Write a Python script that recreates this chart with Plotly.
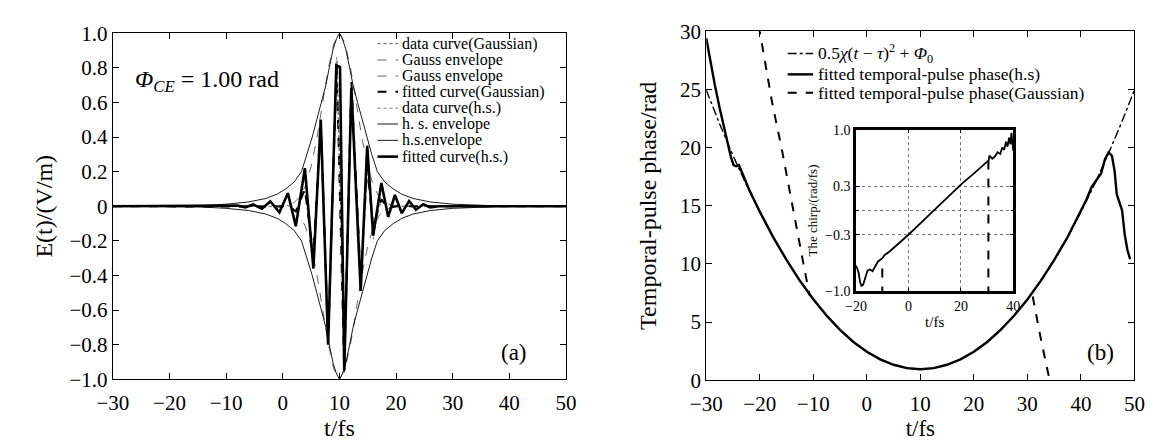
import plotly.graph_objects as go

W, H = 1154, 440
FONT = "Liberation Serif"

# ---------------- panel (a): E(t) ----------------
X_TICKS = [-30, -20, -10, 0, 10, 20, 30, 40, 50]
X_TICKTEXT = ["−30", "−20", "−10", "0", "10", "20", "30", "40", "50"]
EA_TICKS = [-1.0, -0.8, -0.6, -0.4, -0.2, 0.0, 0.2, 0.4, 0.6, 0.8, 1.0]
EA_TICKTEXT = ["−1.0", "−0.8", "−0.6", "−0.4", "−0.2", "0", "0.2", "0.4", "0.6", "0.8", "1.0"]

LEGEND_A = ["data curve(Gaussian)", "Gauss envelope", "Gauss envelope", "fitted curve(Gaussian)",
            "data curve(h.s.)", "h. s. envelope", "h.s.envelope", "fitted curve(h.s.)"]

GAUSS_DATA_T = [-30, -2.0, -0.6, 0.9, 2.3, 3.9, 5.4, 6.7, 8.0, 9.6, 10.9, 12.15, 13.8, 14.95, 16.0, 17.45, 18.7, 20.0, 50]
GAUSS_DATA_E = [0, 0, -0.001, 0.004, -0.025, 0.085, -0.27, 0.49, -0.79, 0.84, -0.96, 0.71, -0.41, 0.22, -0.11, 0.035, -0.01, 0, 0]

GAUSS_ENV_T = [-30, -2, 0, 1, 2, 3, 4, 5, 6, 7, 8, 9, 10, 11, 12, 13, 14, 15, 16, 17, 18, 19, 20, 22, 50]
GAUSS_ENV_UP = [0, 0.0003, 0.0026, 0.008, 0.022, 0.054, 0.118, 0.23, 0.39, 0.59, 0.79, 0.94, 1.0,
                0.94, 0.79, 0.59, 0.39, 0.23, 0.118, 0.054, 0.022, 0.008, 0.0026, 0.0003, 0]
GAUSS_ENV_LO = [0, -0.0003, -0.0026, -0.008, -0.022, -0.054, -0.118, -0.23, -0.39, -0.59, -0.79, -0.94, -1.0,
                -0.94, -0.79, -0.59, -0.39, -0.23, -0.118, -0.054, -0.022, -0.008, -0.0026, -0.0003, 0]

GAUSS_FIT_T = [-30, -2.0, -0.6, 0.9, 2.3, 3.9, 5.4, 6.7, 8.0, 9.5, 10.85, 12.1, 13.75, 14.9, 15.95, 17.4, 18.6, 20.0, 50]
GAUSS_FIT_E = [0, 0, -0.002, 0.006, -0.03, 0.10, -0.29, 0.50, -0.78, 0.83, -0.95, 0.72, -0.42, 0.23, -0.12, 0.04, -0.012, 0, 0]

HS_DATA_T = [-30, -9.5, -8.0, -6.6, -5.2, -3.7, -2.2, -0.6, 0.9, 2.3, 3.9, 5.4, 6.7, 8.0, 9.5, 10.9, 12.2,
             13.8, 15.0, 16.0, 17.4, 18.7, 19.9, 21.1, 22.4, 23.6, 24.9, 26.2, 27.8, 50]
HS_DATA_E = [0, 0, 0.006, -0.008, 0.012, -0.018, 0.032, -0.045, 0.085, -0.12, 0.20, -0.33, 0.47, -0.76, 0.86,
             -0.93, 0.66, -0.45, 0.30, -0.19, 0.12, -0.07, 0.06, -0.045, 0.03, -0.02, 0.012, -0.006, 0, 0]

HS_ENV_T = [-30, -18, -14, -10, -6, -3, -1, 0.5, 2.0, 3.3, 4.3, 5.2, 6.0, 6.8, 7.6, 8.2, 8.9, 9.5, 10,
            10.5, 11.1, 11.8, 12.4, 13.2, 14.0, 14.8, 15.7, 16.7, 18.0, 19.5, 21, 23, 26, 30, 34, 38, 50]
HS_ENV_UP = [0, 0.002, 0.005, 0.012, 0.025, 0.045, 0.07, 0.10, 0.14, 0.20, 0.30, 0.40, 0.50, 0.60, 0.70,
             0.80, 0.91, 0.97, 1.0, 0.97, 0.91, 0.80, 0.70, 0.60, 0.50, 0.40, 0.30, 0.20, 0.14, 0.10,
             0.07, 0.045, 0.025, 0.012, 0.005, 0.002, 0]
HS_ENV_LO = [0, -0.002, -0.005, -0.012, -0.025, -0.045, -0.07, -0.10, -0.14, -0.20, -0.30, -0.40, -0.50,
             -0.60, -0.70, -0.80, -0.91, -0.97, -1.0, -0.97, -0.91, -0.80, -0.70, -0.60, -0.50, -0.40,
             -0.30, -0.20, -0.14, -0.10, -0.07, -0.045, -0.025, -0.012, -0.005, -0.002, 0]

HS_FIT_T = [-30, -9.5, -8.0, -6.6, -5.2, -3.7, -2.2, -0.6, 0.9, 2.3, 3.9, 5.4, 6.7, 8.0, 9.45, 10.1, 10.85,
            12.1, 13.75, 14.9, 15.95, 17.4, 18.6, 19.8, 21.0, 22.3, 23.5, 24.8, 26.0, 27.5, 50]
HS_FIT_E = [0, 0, 0.004, -0.006, 0.010, -0.014, 0.028, -0.035, 0.075, -0.115, 0.22, -0.36, 0.50, -0.80,
            0.815, 0.805, -0.95, 0.685, -0.49, 0.35, -0.17, 0.135, -0.06, 0.065, -0.04, 0.03, -0.02,
            0.012, -0.006, 0, 0]

# ---------------- panel (b): temporal phase ----------------
PH_TICKS = [0, 5, 10, 15, 20, 25, 30]
LEGEND_B = ["0.5<i>χ</i>(<i>t</i> − <i>τ</i>)<sup>2</sup> + <i>Φ</i><sub>0</sub>",
            "fitted temporal-pulse phase(h.s)",
            "fitted temporal-pulse phase(Gaussian)"]

PARAB_T = [-30, -27.5, -25, -22.5, -20, -17.5, -15, -12.5, -10, -7.5, -5, -2.5, 0, 2.5, 5, 7.5, 10,
           12.5, 15, 17.5, 20, 22.5, 25, 27.5, 30, 32.5, 35, 37.5, 40, 42.5, 45, 47.5, 50]
PARAB_P = [24.95, 22.04, 19.33, 16.79, 14.45, 12.29, 10.33, 8.54, 6.95, 5.54, 4.33, 3.29, 2.45, 1.79,
           1.33, 1.04, 0.95, 1.04, 1.33, 1.79, 2.45, 3.29, 4.33, 5.54, 6.95, 8.54, 10.33, 12.29, 14.45,
           16.79, 19.33, 22.04, 24.95]

HS_PH_T = [-30, -29.2, -28.4, -27.5, -26.7, -26.0, -25.4, -24.9, -24.4, -23.9, -23.4, -22.8, -22.0,
           -21.0, -20.0, -17.5, -15, -12.5, -10, -7.5, -5, -2.5, 0, 2.5, 5, 7.5, 10, 12.5, 15, 17.5,
           20, 22.5, 25, 27.5, 30, 32.5, 35, 37.5, 39.5, 41.0, 42.0, 43.0, 43.8, 44.5, 45.2, 45.8,
           46.3, 46.7, 47.2, 47.7, 48.2, 48.7, 49.2]
HS_PH_P = [29.4, 27.3, 25.4, 23.4, 21.8, 20.4, 19.2, 18.5, 18.4, 18.5, 17.9, 17.3, 16.4, 15.4, 14.5,
           12.3, 10.35, 8.55, 6.97, 5.55, 4.33, 3.29, 2.45, 1.79, 1.33, 1.04, 0.95, 1.04, 1.33, 1.79,
           2.45, 3.29, 4.33, 5.54, 6.95, 8.54, 10.33, 12.29, 14.1, 15.5, 16.6, 17.3, 17.8, 19.0, 19.6,
           19.3, 18.0, 16.0, 15.2, 14.6, 12.5, 11.2, 10.4]

GS_PH_T = [-20.2, -17.7, -15.9, -14.5, -12.0, -10.7, None, 31.0, 32.5, 34.3]
GS_PH_P = [30.5, 23.9, 19.9, 16.6, 10.4, 7.3, None, 7.2, 3.6, -0.3]

# ---------------- inset: chirp ----------------
IN_X_TICKS = [-20, 0, 20, 40]
IN_X_TICKTEXT = ["−20", "0", "20", "40"]
IN_Y_TICKS = [-1.0, -0.3, 0.3, 1.0]
IN_Y_TICKTEXT = ["−1.0", "−0.3", "0.3", "1.0"]
IN_Y_EXTRA_GRID = [0.0]

CHIRP_T = [-20, -19.6, -19.0, -18.5, -18.0, -17.3, -16.5, -15.6, -14.7, -13.7, -12.5, -11.6, -10.0,
           -9.1, -7.3, 0, 10, 20, 25, 30, 30.6, 30.9, 32, 33, 34, 35, 35.8, 36.5, 37.2, 37.8, 38.4,
           38.9, 39.3, 39.6, 40]
CHIRP_C = [-0.68, -0.71, -0.77, -0.88, -0.93, -0.92, -0.84, -0.74, -0.73, -0.75, -0.68, -0.63, -0.59,
           -0.55, -0.51, -0.30, 0.01, 0.32, 0.46, 0.60, 0.62, 0.68, 0.64, 0.67, 0.72, 0.70, 0.78, 0.75,
           0.85, 0.79, 0.90, 0.82, 0.96, 0.85, 0.74]
GCHIRP_T = [-10.0, -10.0, None, 30.5, 30.5]
GCHIRP_C = [-1.05, -0.62, None, -1.05, 0.63]


def pxx(p):
    return p / W


def pxy(p):
    return 1 - p / H


fig = go.Figure()

# panel (a) traces
styles_a = [
    dict(color="#555555", width=1, dash="dot"),
    dict(color="#666666", width=1, dash="dash"),
    dict(color="#666666", width=1, dash="dash"),
    dict(color="black", width=2, dash="dash"),
    dict(color="#808080", width=1, dash="3px,3px"),
    dict(color="black", width=0.9),
    dict(color="black", width=0.9),
    dict(color="black", width=2.6),
]
series_a = [
    (GAUSS_DATA_T, GAUSS_DATA_E),
    (GAUSS_ENV_T, GAUSS_ENV_UP),
    (GAUSS_ENV_T, GAUSS_ENV_LO),
    (GAUSS_FIT_T, GAUSS_FIT_E),
    (HS_DATA_T, HS_DATA_E),
    (HS_ENV_T, HS_ENV_UP),
    (HS_ENV_T, HS_ENV_LO),
    (HS_FIT_T, HS_FIT_E),
]
for (t, e), name, st in zip(series_a, LEGEND_A, styles_a):
    fig.add_trace(go.Scatter(x=t, y=e, mode="lines", name=name, line=st,
                             showlegend=False, xaxis="x", yaxis="y"))

# panel (b) traces
styles_b = [
    dict(color="black", width=1.4, dash="dashdot"),
    dict(color="black", width=2.4),
    dict(color="black", width=2, dash="dash"),
]
series_b = [(PARAB_T, PARAB_P), (HS_PH_T, HS_PH_P), (GS_PH_T, GS_PH_P)]
for (t, p), name, st in zip(series_b, LEGEND_B, styles_b):
    fig.add_trace(go.Scatter(x=t, y=p, mode="lines", name=name, line=st,
                             showlegend=False, connectgaps=False, xaxis="x2", yaxis="y2"))

# inset traces
fig.add_trace(go.Scatter(x=CHIRP_T, y=CHIRP_C, mode="lines", line=dict(color="black", width=1.8),
                         showlegend=False, xaxis="x3", yaxis="y3"))
fig.add_trace(go.Scatter(x=GCHIRP_T, y=GCHIRP_C, mode="lines", connectgaps=False,
                         line=dict(color="black", width=2, dash="dash"),
                         showlegend=False, xaxis="x3", yaxis="y3"))

tickfont = dict(family=FONT, size=21, color="black")
titlefont = dict(family=FONT, size=24, color="black")
common = dict(showline=True, linecolor="black", linewidth=1.3, mirror="ticks", ticks="inside",
              ticklen=6, tickwidth=1, tickcolor="black", showgrid=False, zeroline=False,
              tickfont=tickfont, tickmode="array")

inset_common = dict(showline=True, linecolor="black", linewidth=2.5, mirror="ticks", ticks="inside",
                    ticklen=4, tickwidth=1, tickcolor="black", zeroline=False, tickmode="array",
                    showgrid=True, gridcolor="#777777", gridwidth=1, griddash="dot",
                    tickfont=dict(family=FONT, size=14, color="black"))

fig.update_layout(
    width=W, height=H,
    margin=dict(l=0, r=0, t=0, b=0),
    paper_bgcolor="white", plot_bgcolor="white",
    font=dict(family=FONT, color="black"),
    showlegend=False,
    xaxis=dict(domain=[pxx(91), pxx(555)], range=[-30, 50], anchor="y",
               tickvals=X_TICKS, ticktext=X_TICKTEXT, ticklabelstandoff=4,
               title=dict(text="t/fs", font=titlefont, standoff=0), **common),
    yaxis=dict(domain=[pxy(380), pxy(14)], range=[-1, 1], anchor="x",
               tickvals=EA_TICKS, ticktext=EA_TICKTEXT,
               title=dict(text="E(t)/(V/m)", font=titlefont, standoff=10), **common),
    xaxis2=dict(domain=[pxx(698.6), pxx(1137)], range=[-30, 50], anchor="y2",
                tickvals=X_TICKS, ticktext=X_TICKTEXT, ticklabelstandoff=4,
                title=dict(text="t/fs", font=dict(family=FONT, size=23, color="black"), standoff=1),
                **common),
    yaxis2=dict(domain=[pxy(381), pxy(12)], range=[0, 30], anchor="x2",
                tickvals=PH_TICKS, ticktext=[str(v) for v in PH_TICKS],
                title=dict(text="Temporal-pulse phase/rad", font=titlefont, standoff=16), **common),
    xaxis3=dict(domain=[pxx(852), pxx(1013)], range=[-20, 40], anchor="y3",
                tickvals=IN_X_TICKS, ticktext=IN_X_TICKTEXT,
                title=dict(text="t/fs", font=dict(family=FONT, size=15, color="black"), standoff=4),
                **inset_common),
    yaxis3=dict(domain=[pxy(287), pxy(116)], range=[-1, 1], anchor="x3",
                tickvals=IN_Y_TICKS, ticktext=IN_Y_TICKTEXT,
                minor=dict(tickmode="array", tickvals=IN_Y_EXTRA_GRID, showgrid=True,
                           gridcolor="#777777", gridwidth=1, griddash="dot",
                           ticks="inside", ticklen=3, tickcolor="black"),
                title=dict(text="The chirp/(rad/fs)", font=dict(family=FONT, size=13, color="black"),
                           standoff=5),
                **inset_common),
)

# manual legends (exact row spacing of the original)
shapes = []
annots = []
rows_a = [25, 42.3, 59.3, 76, 93.3, 110, 127.3, 144.5]
for name, st, ry in zip(LEGEND_A, styles_a, rows_a):
    shapes.append(dict(type="line", xref="paper", yref="paper", x0=pxx(362), x1=pxx(383),
                       y0=pxy(ry), y1=pxy(ry), line=st))
    annots.append(dict(text=name, xref="paper", yref="paper", x=pxx(385), y=pxy(ry),
                       xanchor="left", yanchor="middle", showarrow=False,
                       font=dict(family=FONT, size=16, color="black")))
rows_b = [35.5, 57.5, 77]
for name, st, ry in zip(LEGEND_B, styles_b, rows_b):
    shapes.append(dict(type="line", xref="paper", yref="paper", x0=pxx(782), x1=pxx(808),
                       y0=pxy(ry), y1=pxy(ry), line=st))
    annots.append(dict(text=name, xref="paper", yref="paper", x=pxx(811), y=pxy(ry),
                       xanchor="left", yanchor="middle", showarrow=False,
                       font=dict(family=FONT, size=17.5, color="black")))

annots.append(dict(text="<i>Φ</i><sub><i>CE</i></sub> = 1.00 rad", xref="paper", yref="paper",
                   x=pxx(112), y=pxy(64), xanchor="left", yanchor="middle", showarrow=False,
                   font=dict(family=FONT, size=24, color="black")))
annots.append(dict(text="(a)", xref="paper", yref="paper", x=pxx(502), y=pxy(352),
                   xanchor="center", yanchor="middle", showarrow=False,
                   font=dict(family=FONT, size=23, color="black")))
annots.append(dict(text="(b)", xref="paper", yref="paper", x=pxx(1102), y=pxy(352),
                   xanchor="center", yanchor="middle", showarrow=False,
                   font=dict(family=FONT, size=23, color="black")))

fig.update_layout(shapes=shapes, annotations=annots)

fig.write_html("out.html")
